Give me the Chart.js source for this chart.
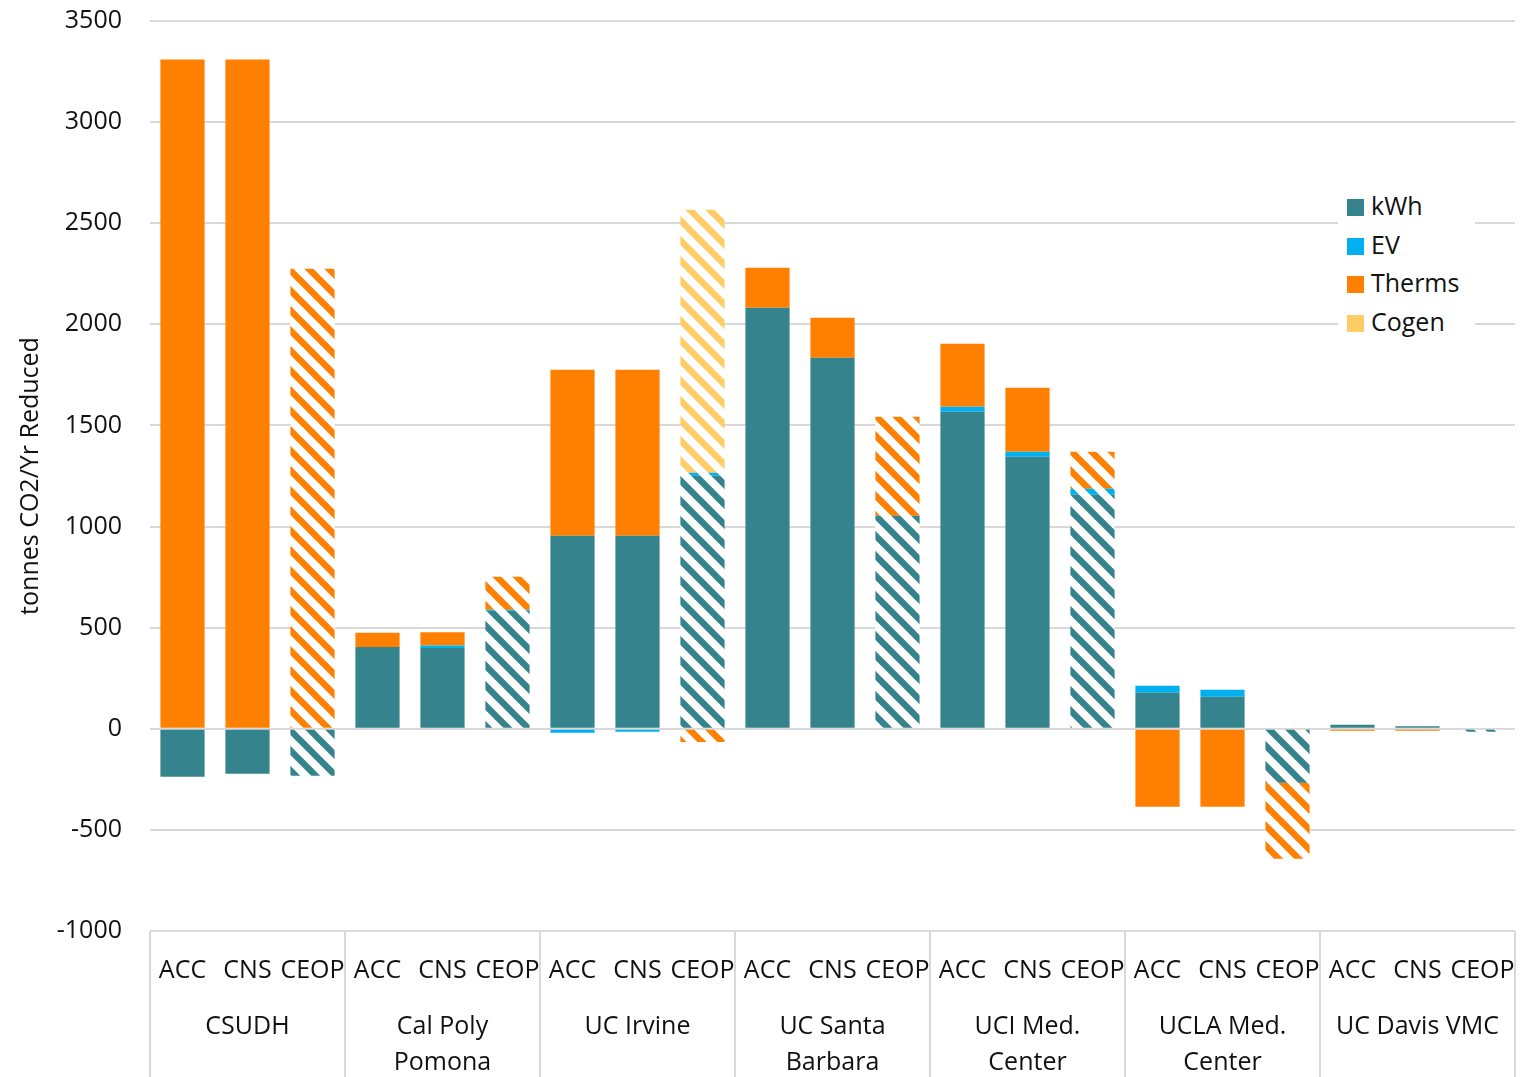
<!DOCTYPE html>
<html>
<head>
<meta charset="utf-8">
<script src="https://cdn.jsdelivr.net/npm/chart.js@4.4.1/dist/chart.umd.min.js"></script>
<style>
  html, body { margin: 0; padding: 0; background: #fff; }
  #contenedor { position: relative; width: 1537px; height: 1077px; }
  #leyenda { position: absolute; left: 1338px; top: 186px; width: 137px; height: 152px; background: #fff;
             font-family: 'Open Sans', sans-serif; font-size: 25px; color: #111; }
  .item { position: absolute; left: 9px; height: 30px; line-height: 30px; white-space: nowrap; }
  .caja { display: inline-block; width: 17px; height: 17px; margin-right: 7px; vertical-align: -1px; }
</style>
</head>
<body>
<div id="contenedor">
  <canvas id="grafico" width="1537" height="1077"></canvas>
  <div id="leyenda"></div>
</div>
<script>
// Datos (toneladas CO2/año reducidas)
const grupos = ['CSUDH', ['Cal Poly', 'Pomona'], 'UC Irvine', ['UC Santa', 'Barbara'],
                ['UCI Med.', 'Center'], ['UCLA Med.', 'Center'], 'UC Davis VMC'];
const escenarios = ['ACC', 'CNS', 'CEOP'];
const categorias = grupos.flatMap(() => escenarios);

const kwh    = [-237, -222, -232,  405,  400,  584,  955,  955, 1251, 2082, 1835, 1053, 1568, 1345, 1157,  178,  158, -267, 20, 12, -15];
const ev     = [   0,    0,    0,    0,   12,    5,  -20,  -15,   15,    0,    0,    0,   25,   25,   30,   35,   35,    0,  0,  0,   0];
const therms = [3310, 3310, 2275,   70,   65,  163,  820,  820,  -65,  198,  198,  490,  311,  316,  183, -386, -386, -376, -10, -10,  0];
const cogen  = [   0,    0,    0,    0,    0,    0,    0,    0, 1301,    0,    0,    0,    0,    0,    0,    0,    0,    0,  0,  0,   0];

const series = ['kWh', 'EV', 'Therms', 'Cogen'];
const valores = [kwh, ev, therms, cogen];
const colores = ['#35838D', '#00B0F0', '#FF8000', '#FFCC66'];

const fuente = { family: "'Open Sans', sans-serif", size: 25 };
const colorTexto = '#111';
const colorRejilla = '#D9D9D9';

// Rayado diagonal para las barras CEOP
function crearRayado(color) {
    const lado = 20;
    const c = document.createElement('canvas');
    c.width = lado; c.height = lado;
    const g = c.getContext('2d');
    g.fillStyle = '#fff';
    g.fillRect(0, 0, lado, lado);
    g.strokeStyle = color;
    g.lineWidth = 6.5;
    for (const k of [-lado, 0, lado]) {
        g.beginPath();
        g.moveTo(k - 4, -4);
        g.lineTo(k + lado + 4, lado + 4);
        g.stroke();
    }
    return g.createPattern(c, 'repeat');
}

const datasets = series.map((nombre, i) => {
    const rayado = crearRayado(colores[i]);
    return {
        label: nombre,
        data: valores[i],
        backgroundColor: categorias.map((_, j) => j % 3 === 2 ? rayado : colores[i]),
        borderWidth: 0,
        barPercentage: 0.68,
        categoryPercentage: 1
    };
});

// Líneas verticales que separan los grupos bajo el eje
const separadores = {
    id: 'separadores',
    afterDraw(chart) {
        const { ctx, chartArea, scales } = chart;
        const x = scales.x;
        const posiciones = [chartArea.left];
        for (let k = 1; k < grupos.length; k++) {
            posiciones.push((x.getPixelForValue(3 * k - 1) + x.getPixelForValue(3 * k)) / 2);
        }
        posiciones.push(chartArea.right);
        ctx.save();
        ctx.strokeStyle = colorRejilla;
        ctx.lineWidth = 2;
        posiciones.forEach(p => {
            ctx.beginPath();
            ctx.moveTo(Math.round(p), chartArea.bottom);
            ctx.lineTo(Math.round(p), chart.height);
            ctx.stroke();
        });
        ctx.restore();
    }
};

new Chart(document.getElementById('grafico').getContext('2d'), {
    type: 'bar',
    data: { labels: categorias, datasets: datasets },
    plugins: [separadores],
    options: {
        responsive: false,
        animation: false,
        layout: { padding: { top: 21, right: 22, left: 0, bottom: 0 } },
        plugins: {
            legend: { display: false },
            tooltip: { enabled: false }
        },
        scales: {
            x: {
                stacked: true,
                grid: { display: false },
                border: { display: false },
                ticks: { font: fuente, color: colorTexto, padding: 17, maxRotation: 0, autoSkip: false },
                afterFit: s => { s.height = 53; }
            },
            x2: {
                type: 'category',
                labels: grupos,
                offset: true,
                position: 'bottom',
                grid: { display: false },
                border: { display: false },
                ticks: { font: { ...fuente, lineHeight: 1.44 }, color: colorTexto, padding: 17, maxRotation: 0, autoSkip: false },
                afterFit: s => { s.height = 93; }
            },
            y: {
                stacked: true,
                min: -1000,
                max: 3500,
                ticks: { stepSize: 500, padding: 28, font: fuente, color: colorTexto, callback: v => String(v) },
                grid: { color: colorRejilla, lineWidth: 2, drawTicks: false },
                border: { display: false },
                title: { display: true, text: 'tonnes CO2/Yr Reduced', font: fuente, color: colorTexto, padding: { top: 16, bottom: 0 } },
                afterFit: s => { s.width = 150; s.paddingTop = 0; s.paddingBottom = 0; }
            }
        }
    }
});

// Leyenda en HTML dentro del área del gráfico
const leyendaDiv = document.getElementById('leyenda');
series.forEach((nombre, i) => {
    const item = document.createElement('div');
    item.className = 'item';
    item.style.top = (4 + i * 38.7) + 'px';
    item.innerHTML = '<span class="caja" style="background:' + colores[i] + '"></span>' + nombre;
    leyendaDiv.appendChild(item);
});
</script>
</body>
</html>
